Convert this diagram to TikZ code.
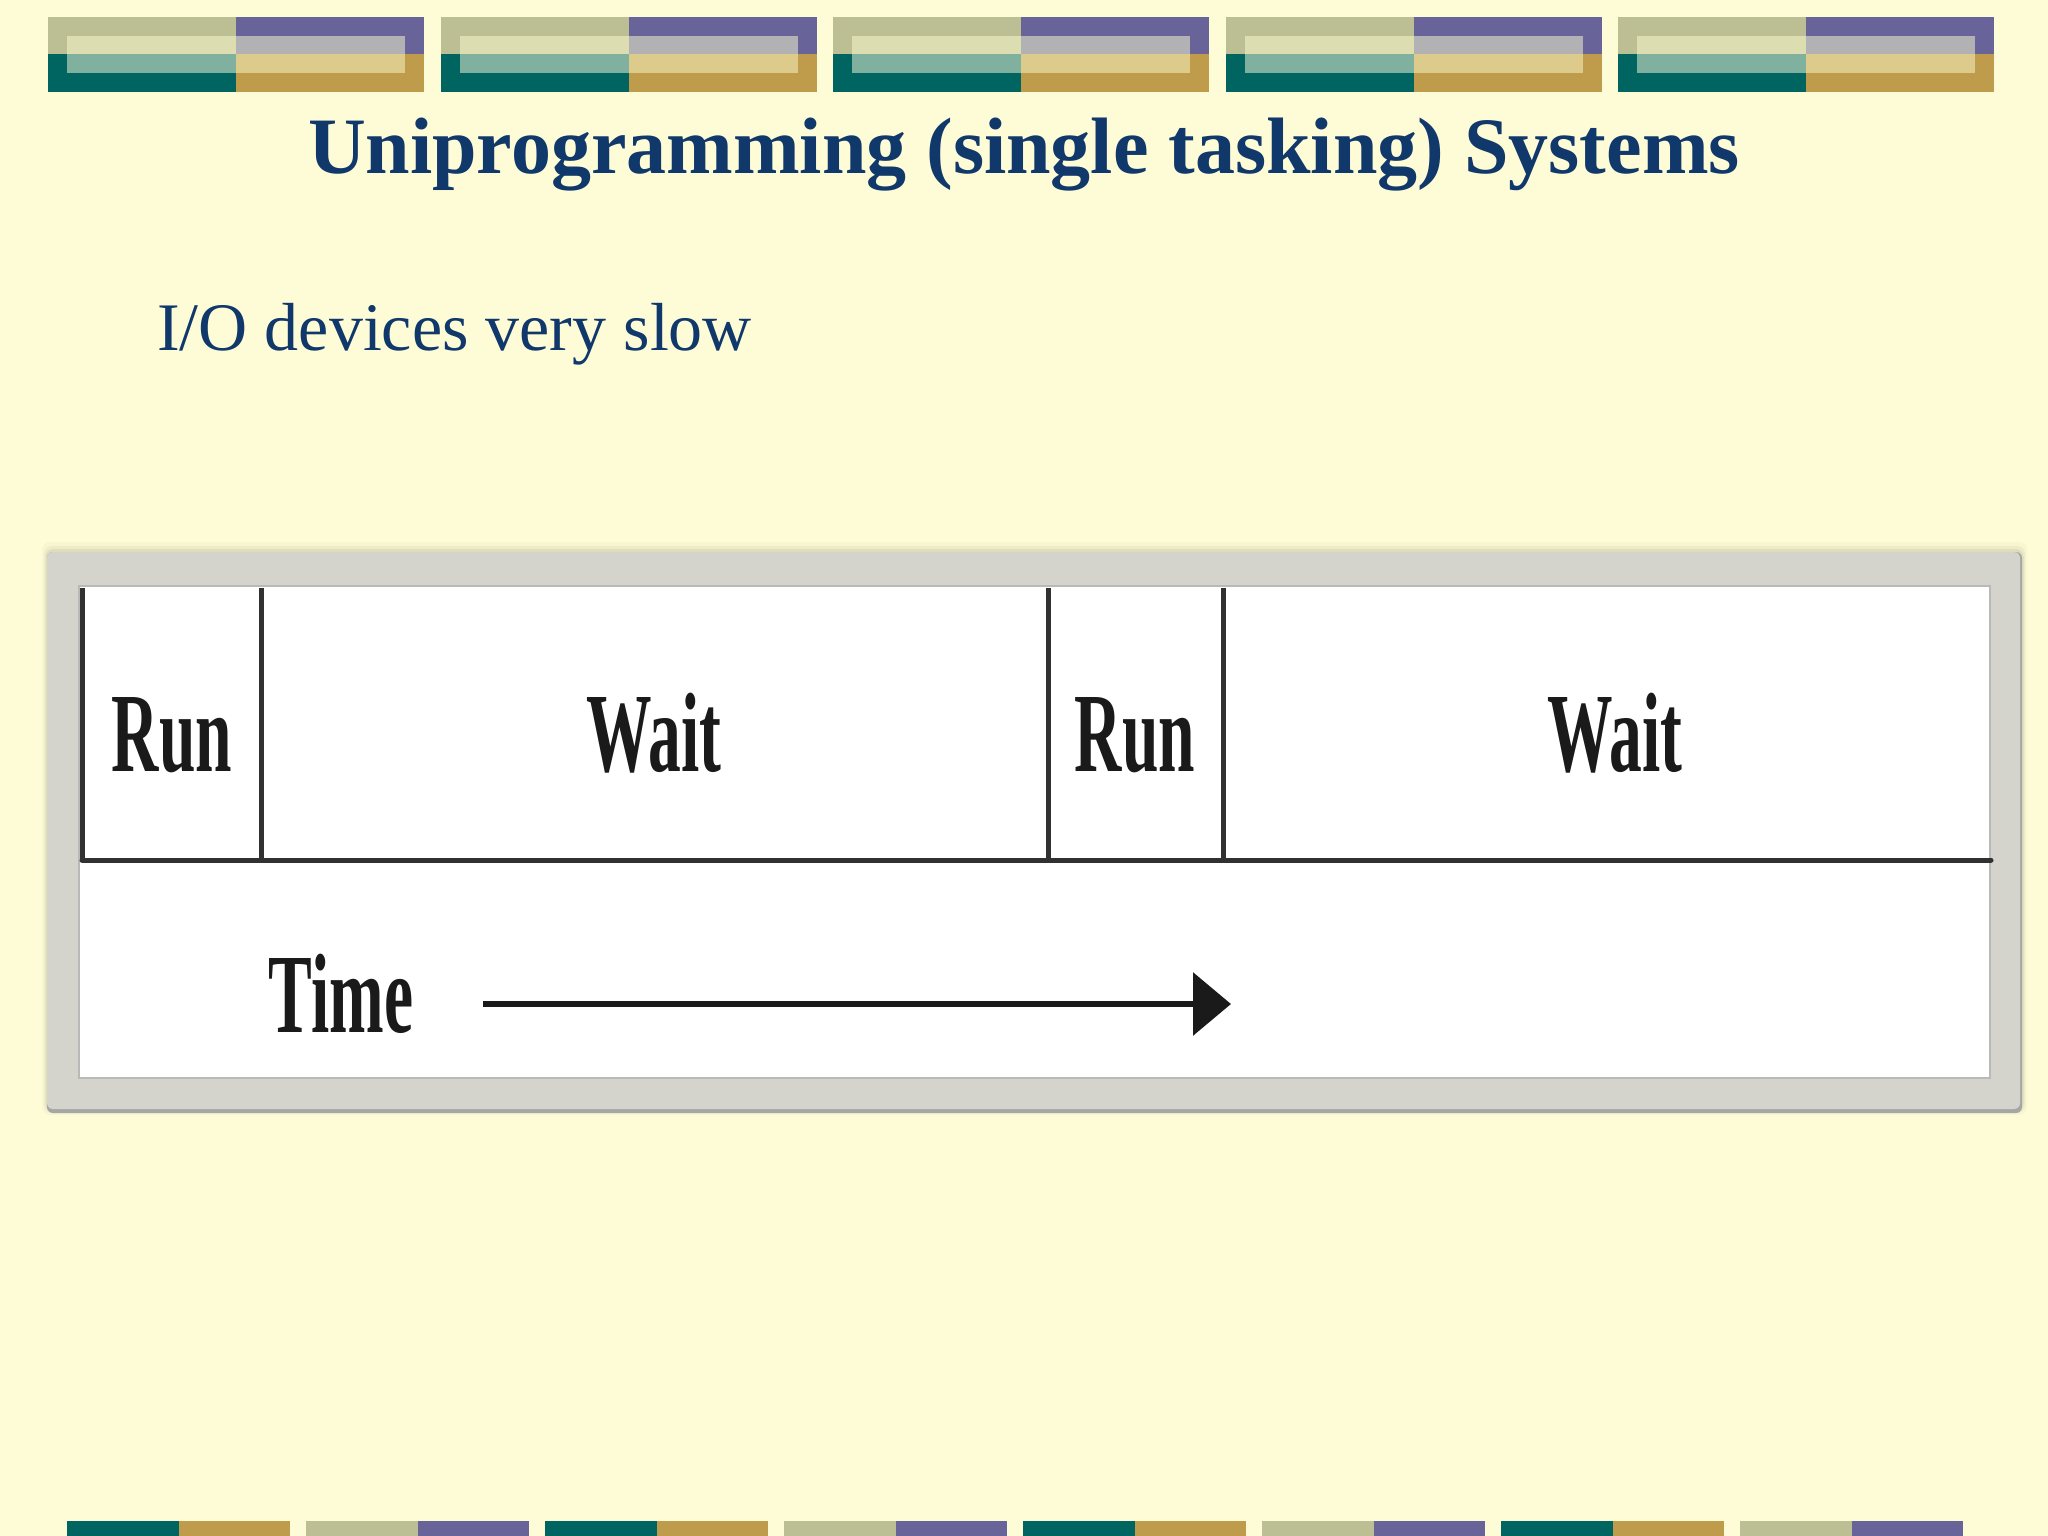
\documentclass[tikz,border=0pt]{standalone}
\usepackage{fontspec}
\setmainfont{Liberation Serif}
\usetikzlibrary{arrows.meta}
\definecolor{bg}{HTML}{FDFCD6}
\definecolor{khaki}{HTML}{BCBE94}
\definecolor{purp}{HTML}{686499}
\definecolor{tealc}{HTML}{006560}
\definecolor{gold}{HTML}{BF9C4C}
\definecolor{khakiL}{HTML}{DCDDB0}
\definecolor{greyL}{HTML}{B2B2B4}
\definecolor{tealL}{HTML}{80B09E}
\definecolor{goldL}{HTML}{DDCB8C}
\definecolor{navy}{HTML}{10386A}
\definecolor{framec}{HTML}{D4D3CC}
\definecolor{ink}{HTML}{1A1A1A}
\tikzset{
  lbl/.style={font=\fontsize{113}{113}\selectfont\bfseries, xscale=0.58, anchor=base, inner sep=0pt, text=ink},
  gridline/.style={draw=ink!90, line width=5pt},
}
\begin{document}
\begin{tikzpicture}[x=1pt,y=-1pt]
\useasboundingbox (0,0) rectangle (2048,1536);
\fill[bg] (0,0) rectangle (2048,1536);
% top decoration
\foreach \i in {0,...,4}{
  \pgfmathsetmacro\bx{48+392.5*\i}
  \begin{scope}[shift={(\bx,0)}]
    \fill[khaki] (0,17) rectangle (188,54);
    \fill[purp] (188,17) rectangle (376,54);
    \fill[tealc] (0,54) rectangle (188,92);
    \fill[gold] (188,54) rectangle (376,92);
    \fill[khakiL] (19,36) rectangle (188,54);
    \fill[greyL] (188,36) rectangle (357,54);
    \fill[tealL] (19,54) rectangle (188,73);
    \fill[goldL] (188,54) rectangle (357,73);
  \end{scope}
}
% bottom decoration
\foreach \i in {0,2,4,6}{
  \pgfmathsetmacro\bx{67+239*\i}
  \fill[tealc] (\bx,1521) rectangle ({\bx+111.5},1536);
  \fill[gold] ({\bx+111.5},1521) rectangle ({\bx+223},1536);
}
\foreach \i in {1,3,5,7}{
  \pgfmathsetmacro\bx{67+239*\i}
  \fill[khaki] (\bx,1521) rectangle ({\bx+111.5},1536);
  \fill[purp] ({\bx+111.5},1521) rectangle ({\bx+223},1536);
}
% title and subtitle
\node[anchor=base, inner sep=0pt, text=navy, font=\fontsize{80}{86}\selectfont\bfseries] (title) at (1024,174) {Uniprogramming (single tasking) Systems};
\node[anchor=base west, inner sep=0pt, text=navy, font=\fontsize{68}{74}\selectfont] (sub) at (157,350) {I/O devices very slow};
% frame with shadow
\foreach \d/\o in {10/0.025,6/0.04,3/0.06}{
  \fill[black, opacity=\o, rounded corners=8] ({47-\d/2},{552-\d}) rectangle ({2022+\d/2},{1110+\d/2});
}
\fill[gray!70, rounded corners=6] (47,552) rectangle (2022,1113);
\fill[framec, rounded corners=6] (47,552) rectangle (2020,1109);
\fill[white] (79,586) rectangle (1990,1078);
\draw[gray!55, line width=2pt] (79,586) rectangle (1990,1078);
% grid
\coordinate (tl) at (82,588);
\coordinate (bl) at (82,860);
\coordinate (t1) at (261,588);
\coordinate (b1) at (261,860);
\coordinate (t2) at (1048,588);
\coordinate (b2) at (1048,860);
\coordinate (t3) at (1223,588);
\coordinate (b3) at (1223,860);
\coordinate (br) at (1991,860);
\draw[gridline] (tl) -- (bl);
\draw[gridline] (t1) -- (b1);
\draw[gridline] (t2) -- (b2);
\draw[gridline] (t3) -- (b3);
\draw[gridline, line cap=round] (bl) -- (br);
% labels
\node[lbl] (run1) at (172,771) {Run};
\node[lbl] (wait1) at (654,771) {Wait};
\node[lbl] (run2) at (1135,771) {Run};
\node[lbl] (wait2) at (1615,771) {Wait};
\node[lbl] (time) at (341,1032) {Time};
% time arrow
\coordinate (as) at (483,1004);
\coordinate (ae) at (1231,1004);
\draw[ink, line width=6.5pt, -{Triangle[length=38pt,width=62pt]}] (as) -- (ae);
\end{tikzpicture}
\end{document}
